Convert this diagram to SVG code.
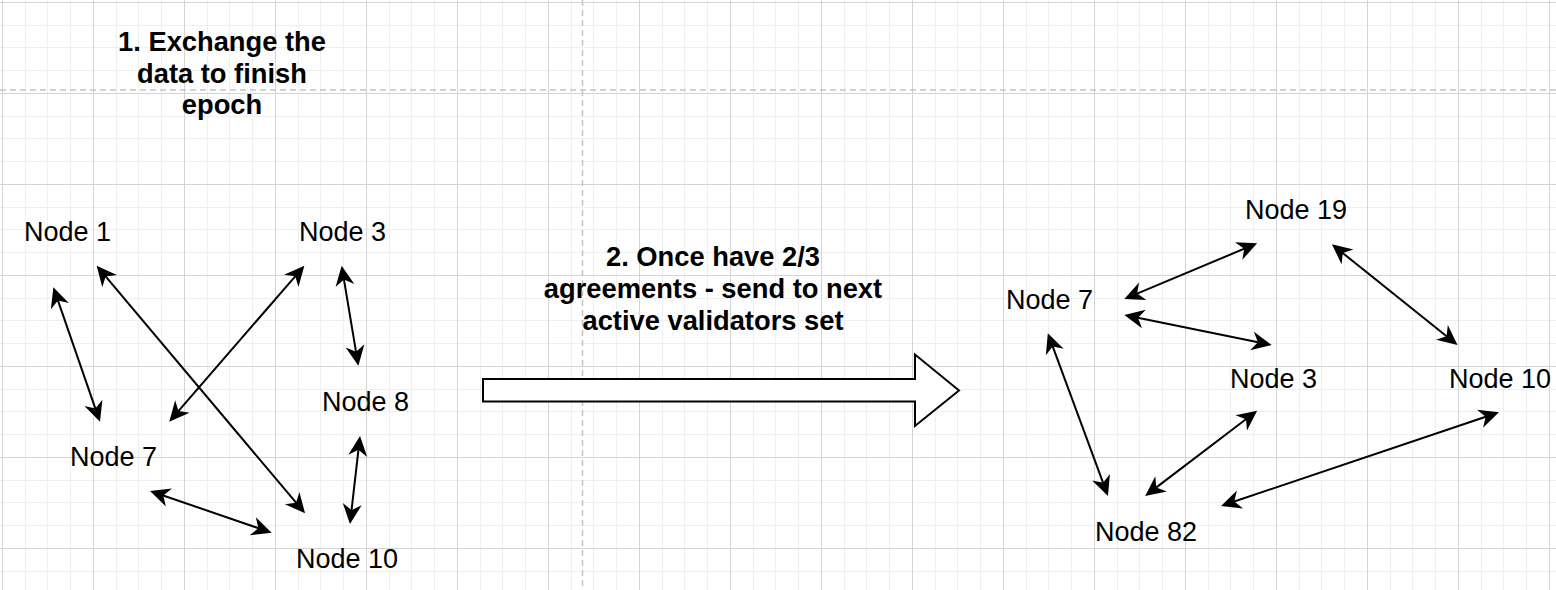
<svg xmlns="http://www.w3.org/2000/svg" width="1556" height="590" viewBox="0 0 1556 590">
<style>
.lbl{font-family:"Liberation Sans",Arial,sans-serif;font-size:27px;fill:#000}
.ttl{font-family:"Liberation Sans",Arial,sans-serif;font-size:27.3px;font-weight:bold;fill:#000;text-anchor:middle}
.edge{stroke:#000;stroke-width:2;fill:none;marker-start:url(#ah);marker-end:url(#ah)}
.page{stroke:#c4c4c4;stroke-width:1.5;stroke-dasharray:6 4;fill:none}
</style>
<defs>
<pattern id="grid" patternUnits="userSpaceOnUse" x="2" y="2" width="91" height="91">
<rect x="0" y="0" width="91" height="91" fill="#fff"/>
<rect x="23" y="0" width="1" height="91" fill="#efefef"/>
<rect x="45" y="0" width="1" height="91" fill="#efefef"/>
<rect x="68" y="0" width="1" height="91" fill="#efefef"/>
<rect x="0" y="23" width="91" height="1" fill="#efefef"/>
<rect x="0" y="45" width="91" height="1" fill="#efefef"/>
<rect x="0" y="68" width="91" height="1" fill="#efefef"/>
<rect x="0" y="0" width="1" height="91" fill="#d4d4d4"/>
<rect x="0" y="0" width="91" height="1" fill="#d4d4d4"/>
</pattern>
<marker id="ah" viewBox="-12 -11 24 22" refX="0" refY="0" markerWidth="24" markerHeight="22" markerUnits="userSpaceOnUse" orient="auto-start-reverse">
<path d="M10,0 L-10,-9.5 L-4,0 L-10,9.5 Z" fill="#000"/>
</marker>
</defs>
<rect x="0" y="0" width="1556" height="590" fill="url(#grid)"/>
<line class="page" x1="0" y1="90" x2="1556" y2="90"/>
<line class="page" x1="582.5" y1="0" x2="582.5" y2="590"/>

<g id="connectors">
<path class="edge" d="M56.6,296.7 L96.7,412.3"/>
<path class="edge" d="M103.1,273.4 L298.6,505.7"/>
<path class="edge" d="M297.8,273.3 L175.8,414.1"/>
<path class="edge" d="M343.3,275.6 L356.7,355.8"/>
<path class="edge" d="M358.9,445.9 L351.1,514.1"/>
<path class="edge" d="M159.5,494.2 L262.2,529.5"/>
<path class="edge" d="M1133.5,295.1 L1247.9,247.2"/>
<path class="edge" d="M1134.1,317 L1261.8,343"/>
<path class="edge" d="M1339.7,250.6 L1449.7,338.7"/>
<path class="edge" d="M1051.3,342.7 L1104.5,486.6"/>
<path class="edge" d="M1249.2,416.8 L1153.1,489.9"/>
<path class="edge" d="M1489.5,415.5 L1230.5,502.8"/>
</g>

<g id="step1">
<text class="ttl" x="222" y="51">1. Exchange the</text>
<text class="ttl" x="222" y="83">data to finish</text>
<text class="ttl" x="222" y="114">epoch</text>
</g>

<g id="step2">
<text class="ttl" x="713" y="266">2. Once have 2/3</text>
<text class="ttl" x="713" y="298">agreements - send to next</text>
<text class="ttl" x="713" y="330">active validators set</text>
</g>

<g id="big-arrow">
<path d="M483,379 L915,379 L915,354.5 L959,390.5 L915,426 L915,401.5 L483,401.5 Z" fill="#fff" stroke="#000" stroke-width="2"/>
</g>

<g id="node-1"><text class="lbl" x="24" y="241">Node 1</text></g>
<g id="node-3"><text class="lbl" x="299" y="241">Node 3</text></g>
<g id="node-8"><text class="lbl" x="322" y="411">Node 8</text></g>
<g id="node-7"><text class="lbl" x="70" y="466">Node 7</text></g>
<g id="node-10"><text class="lbl" x="296" y="568">Node 10</text></g>

<g id="node-19-r"><text class="lbl" x="1245" y="219">Node 19</text></g>
<g id="node-7-r"><text class="lbl" x="1006" y="309">Node 7</text></g>
<g id="node-3-r"><text class="lbl" x="1230" y="388">Node 3</text></g>
<g id="node-10-r"><text class="lbl" x="1449" y="388">Node 10</text></g>
<g id="node-82-r"><text class="lbl" x="1095" y="541">Node 82</text></g>
</svg>
